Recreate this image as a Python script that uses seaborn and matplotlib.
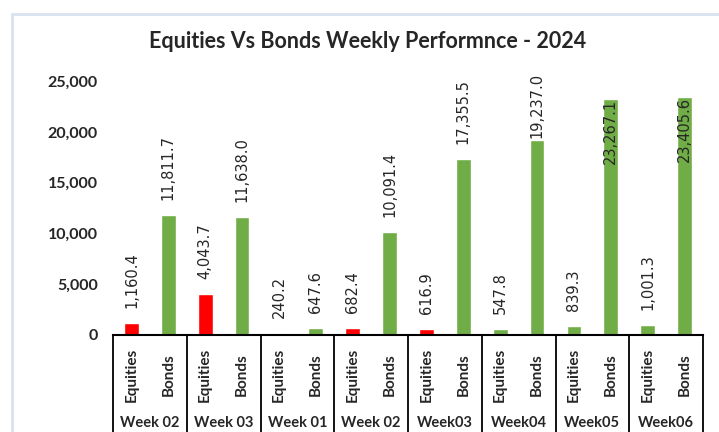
import pandas as pd
import numpy as np
import matplotlib
matplotlib.use("Agg")
import matplotlib.pyplot as plt
import seaborn as sns
from matplotlib.patches import Rectangle
from matplotlib.transforms import blended_transform_factory

# data
weeks = ["Week 02", "Week 03", "Week 01", "Week 02", "Week03", "Week04", "Week05", "Week06"]
series = ["Equities", "Bonds"]
equities = [1160.4, 4043.7, 240.2, 682.4, 616.9, 547.8, 839.3, 1001.3]
bonds = [11811.7, 11638.0, 647.6, 10091.4, 17355.5, 19237.0, 23267.1, 23405.6]
bar_colors = ["#FF0000", "#70AD47"] * 5 + ["#70AD47", "#70AD47"] * 3
yticks = [0, 5000, 10000, 15000, 20000, 25000]

rows = []
for i, w in enumerate(weeks):
    rows.append({"slot": f"{i}-E", "week": w, "series": "Equities", "value": equities[i]})
    rows.append({"slot": f"{i}-B", "week": w, "series": "Bonds", "value": bonds[i]})
df = pd.DataFrame(rows)

sns.set_style("white")
plt.rcParams["font.family"] = ["Lato", "DejaVu Sans"]

W, H = 719, 432
fig = plt.figure(figsize=(W / 100, H / 100), dpi=100)
ax_left, ax_right, ax_bot, ax_top = 113, 703, 335, 81
ax = fig.add_axes([ax_left / W, 1 - ax_bot / H, (ax_right - ax_left) / W, (ax_bot - ax_top) / H])

sns.barplot(data=df, x="slot", y="value", hue="slot", palette=bar_colors, width=0.4,
            saturation=1, errorbar=None, legend=False, ax=ax)

ax.set_xlim(-0.5, len(df) - 0.5)
ax.set_ylim(0, 25000)
ax.set_yticks(yticks)
ax.set_yticklabels([f"{v:,}" for v in yticks], fontsize=11.5, fontweight="bold")
ax.tick_params(axis="y", length=0, pad=11)
ax.set_xticks([])
ax.set_xlabel("")
ax.set_ylabel("")
for s in ["left", "top", "right"]:
    ax.spines[s].set_visible(False)
ax.spines["bottom"].set_color("black")
ax.spines["bottom"].set_linewidth(1.5)

# category axis boxes below the bars
trans = blended_transform_factory(ax.transData, ax.transAxes)
ax_h = ax_bot - ax_top
for b in np.arange(-0.5, len(df), 2):
    ax.plot([b, b], [0, -0.6], transform=trans, color="black", lw=1.3, clip_on=False)
for i, row in df.iterrows():
    ax.text(i, -(375 - ax_bot) / ax_h, row["series"], rotation=90, ha="center", va="center",
            fontsize=11, fontweight="bold", transform=trans)
for i, w in enumerate(weeks):
    ax.text(2 * i + 0.5, -(423 - ax_bot) / ax_h, w, ha="center", va="center",
            fontsize=10.5, fontweight="bold", transform=trans)

# data labels, pushed down / inside when they would run past the plot area
fig.canvas.draw()
top_limit = H - 73
for i, row in df.iterrows():
    t = ax.annotate(f"{row['value']:,.1f}", (i, row["value"]), xytext=(0, 15),
                    textcoords="offset pixels", rotation=90, ha="center", va="bottom",
                    fontsize=10.5, family="DejaVu Sans", annotation_clip=False)
    bb = t.get_window_extent(fig.canvas.get_renderer())
    if bb.y1 > top_limit:
        off = 15 - (bb.y1 - top_limit)
        if off >= 0:
            t.xyann = (0, off)
        else:
            t.xyann = (0, 0)
            t.set_va("top")

fig.text(368 / W, 1 - 42 / H, "Equities Vs Bonds Weekly Performnce - 2024", ha="center", va="center",
         fontsize=15.5, fontweight="bold")

fig.add_artist(Rectangle((12 / W, -0.1), 1.2, 1 - 14 / H + 0.1, transform=fig.transFigure,
                         fill=False, edgecolor="#D9E2F0", lw=2))

fig.savefig("out.png", dpi=100)
